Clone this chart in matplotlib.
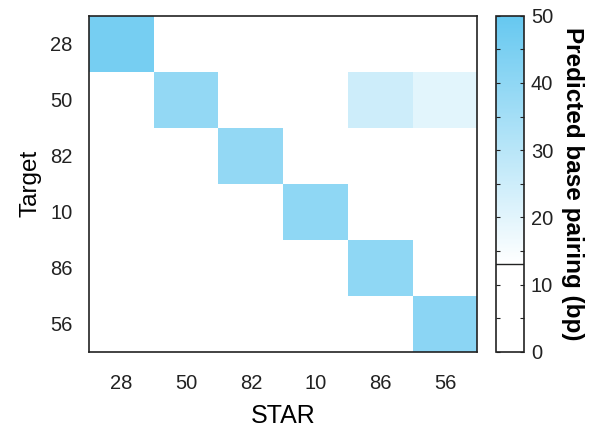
import numpy as np
import matplotlib
matplotlib.use('Agg')
import matplotlib.pyplot as plt
from matplotlib.colors import LinearSegmentedColormap, Normalize
from matplotlib.cm import ScalarMappable

plt.rcParams['font.family'] = ['Liberation Sans', 'DejaVu Sans']
plt.rcParams['text.color'] = '#222222'
plt.rcParams['xtick.color'] = '#222222'
plt.rcParams['ytick.color'] = '#222222'

# Rows = target, columns = STAR
star_labels = ['28', '50', '82', '10', '86', '56']
target_labels = ['28', '50', '82', '10', '86', '56']
pairing = np.array([
    [46, 0, 0, 0, 0, 0],
    [0, 39, 0, 0, 25, 20],
    [0, 0, 39, 0, 0, 0],
    [0, 0, 0, 40, 0, 0],
    [0, 0, 0, 0, 40, 0],
    [0, 0, 0, 0, 0, 41],
])
vmin, vmax, cutoff = 0, 50, 13

cmap = LinearSegmentedColormap.from_list(
    'bp', [(0, 'white'), (cutoff / vmax, 'white'), (1, '#66C8F0')])
norm = Normalize(vmin, vmax)

fig = plt.figure(figsize=(5.9, 4.36), dpi=100)
ax = fig.add_axes([0.151, 0.193, 0.658, 0.771])
ax.pcolormesh(pairing, cmap=cmap, norm=norm)
ax.set_xlim(0, 6)
ax.set_ylim(6, 0)
ax.set_xticks(np.arange(6) + 0.5)
ax.set_xticklabels(star_labels)
ax.set_yticks(np.arange(6) + 0.5)
ax.set_yticklabels(target_labels)
ax.tick_params(length=0, labelsize=14.5, pad=16)
ax.tick_params(axis='y', pad=12)
ax.set_xlabel('STAR', fontsize=18, labelpad=8)
ax.set_ylabel('Target', fontsize=17.5, labelpad=6)
for s in ax.spines.values():
    s.set_linewidth(1.2)
    s.set_color('#222222')

cax = fig.add_axes([0.841, 0.193, 0.047, 0.771])
cb = fig.colorbar(ScalarMappable(norm=norm, cmap=cmap), cax=cax)
cb.set_ticks(np.arange(0, 51, 10))
cb.ax.set_yticks(np.arange(0, 51, 5), minor=True)
cb.ax.tick_params(which='both', direction='in', left=True, right=True,
                  length=3, width=0.8, labelsize=14.5, pad=5)
cb.ax.axhline(cutoff, color='#222222', lw=1)
cb.outline.set_linewidth(1.2)
cb.outline.set_edgecolor('#222222')
cb.set_label('Predicted base pairing (bp)', fontsize=17.5, fontweight='bold',
             rotation=270, labelpad=22)

fig.savefig('out.png', dpi=100)
